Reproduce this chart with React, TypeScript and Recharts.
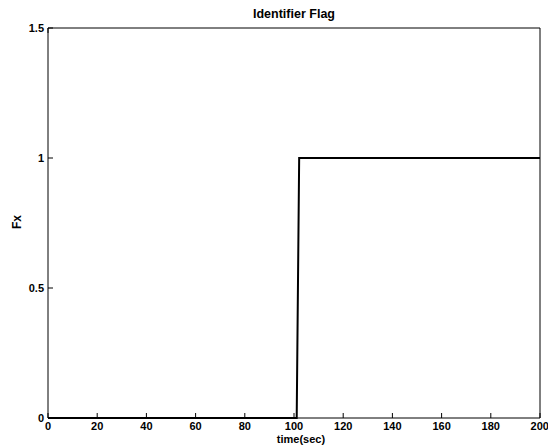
import { LineChart, Line, XAxis, YAxis } from 'recharts'

const timeSec = [0, 101.1, 102.1, 200]
const flag = [0, 0, 1, 1]
const xTicks = [0, 20, 40, 60, 80, 100, 120, 140, 160, 180, 200]
const yTicks = [0, 0.5, 1, 1.5]

const data = timeSec.map((t, i) => ({ t, fx: flag[i] }))

const font = '"Liberation Sans", Arial, Helvetica, sans-serif'
const tickStyle = { fontSize: 11, fontWeight: 700, fill: '#000', fontFamily: font }
const blank = () => ''

export default function App() {
  return (
    <div style={{ position: 'absolute', left: 0, top: 0, width: 548, height: 448, background: '#fff', fontFamily: font }}>
      <LineChart width={548} height={448} data={data} margin={{ top: 0, right: 0, bottom: 0, left: 0 }}>
        <XAxis dataKey="t" type="number" domain={[0, 200]} ticks={xTicks} height={30}
          stroke="#000" tickSize={-5} tickMargin={9} tick={tickStyle} />
        <XAxis xAxisId="top" orientation="top" type="number" domain={[0, 200]} ticks={xTicks} height={28}
          stroke="#000" tickSize={-5} tickFormatter={blank} />
        <YAxis type="number" domain={[0, 1.5]} ticks={yTicks} width={48}
          stroke="#000" tickSize={-5} tickMargin={9} tick={tickStyle} />
        <YAxis yAxisId="right" orientation="right" type="number" domain={[0, 1.5]} ticks={yTicks} width={8}
          stroke="#000" tickSize={-5} tickFormatter={blank} />
        <Line dataKey="fx" type="linear" stroke="#000" strokeWidth={2} dot={false} isAnimationActive={false} />
      </LineChart>
      <div style={{ position: 'absolute', left: 194, width: 200, top: 7, textAlign: 'center', fontSize: 12.5, fontWeight: 700 }}>
        Identifier Flag
      </div>
      <div style={{ position: 'absolute', left: 251, width: 100, top: 433, textAlign: 'center', fontSize: 11, fontWeight: 700 }}>
        time(sec)
      </div>
      <div style={{ position: 'absolute', left: -33, width: 100, top: 215, textAlign: 'center', fontSize: 12, fontWeight: 700, transform: 'rotate(-90deg)' }}>
        Fx
      </div>
    </div>
  )
}
